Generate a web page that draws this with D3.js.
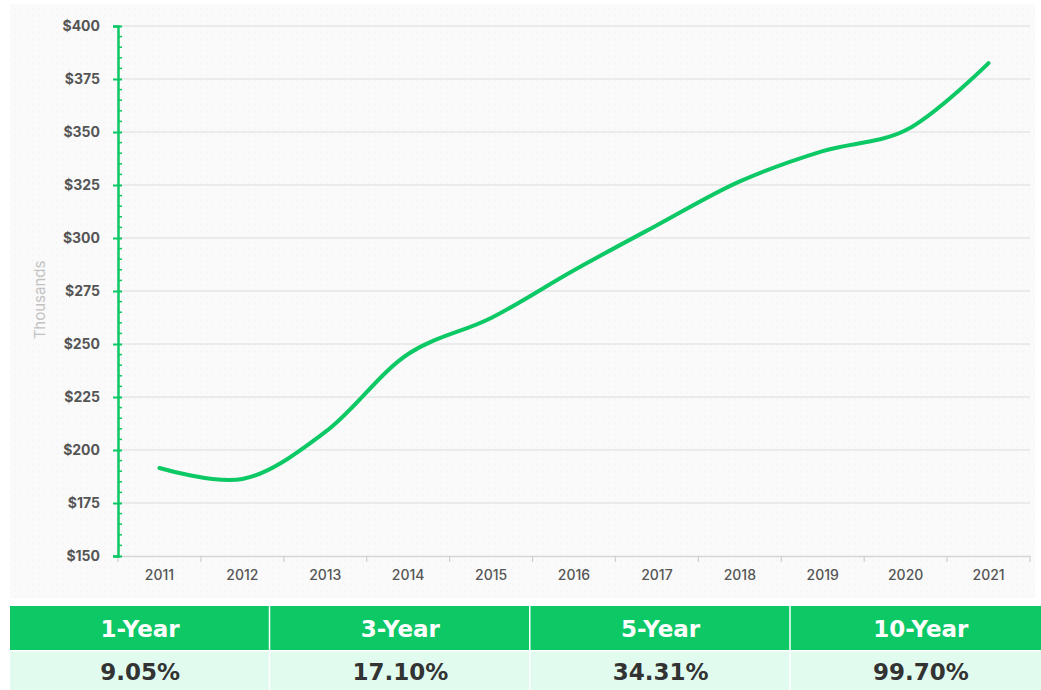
<!DOCTYPE html>
<html>
<head>
<meta charset="utf-8">
<script src="https://cdn.jsdelivr.net/npm/d3@7"></script>
<style>
  body { margin: 0; background: #fff; }
  svg { display: block; }
</style>
</head>
<body>
<svg id="chart"></svg>
<script>
var years = ["2011", "2012", "2013", "2014", "2015", "2016", "2017", "2018", "2019", "2020", "2021"];
var prices = [191.5, 186.3, 208.5, 245.3, 262.3, 284.8, 306, 326.7, 341, 350.8, 382.5];
var yTicks = [150, 175, 200, 225, 250, 275, 300, 325, 350, 375, 400];
var periods = ["1-Year", "3-Year", "5-Year", "10-Year"];
var growth = ["9.05%", "17.10%", "34.31%", "99.70%"];

var width = 1041, height = 690;
var green = "#0cc865";
var labelFont = "Inter, Roboto, sans-serif";
var tableFont = "'DejaVu Sans', sans-serif";

var svg = d3.select("#chart").attr("width", width).attr("height", height);

// panel background with a faint dot texture
var defs = svg.append("defs");
var pat = defs.append("pattern")
  .attr("id", "dots").attr("width", 6).attr("height", 6)
  .attr("patternUnits", "userSpaceOnUse");
pat.append("rect").attr("width", 6).attr("height", 6).attr("fill", "#fafafa");
pat.append("circle").attr("cx", 3).attr("cy", 3).attr("r", 0.6).attr("fill", "#ececec");

svg.append("rect").attr("x", 10).attr("y", 4).attr("width", 1025).attr("height", 594)
  .attr("fill", "url(#dots)");

var x = d3.scaleBand().domain(years).range([118, 1030]);
var y = d3.scaleLinear().domain([150, 400]).range([556, 26]);

// grid
svg.append("g").selectAll("line").data(yTicks.slice(1)).enter().append("line")
  .attr("x1", 118).attr("x2", 1030)
  .attr("y1", function (d) { return y(d); })
  .attr("y2", function (d) { return y(d); })
  .attr("stroke", "#dcdcdc").attr("stroke-width", 1.2);

// x axis
var xAxis = svg.append("g").attr("transform", "translate(0,556)")
  .call(d3.axisBottom(x).tickSize(0).tickPadding(14));
xAxis.select(".domain").attr("stroke", "#d6d6d6").attr("stroke-width", 1.5);
xAxis.selectAll("text").attr("font-family", labelFont)
  .attr("font-size", 14).attr("font-weight", 500).attr("fill", "#555");
svg.append("g").selectAll("line").data(years.concat(["end"])).enter().append("line")
  .attr("x1", function (d, i) { return 118 + i * x.step(); })
  .attr("x2", function (d, i) { return 118 + i * x.step(); })
  .attr("y1", 556).attr("y2", 562)
  .attr("stroke", "#cfcfcf").attr("stroke-width", 1.2);

// y axis
var yAxis = svg.append("g").attr("transform", "translate(118,0)")
  .call(d3.axisLeft(y).tickValues(yTicks).tickSize(5).tickPadding(13)
    .tickFormat(function (d) { return "$" + d; }));
yAxis.select(".domain").attr("stroke", green).attr("stroke-width", 2.5);
yAxis.selectAll(".tick line").attr("stroke", green).attr("stroke-width", 2)
  .attr("x1", 4);
yAxis.selectAll("text").attr("font-family", labelFont)
  .attr("font-size", 14).attr("font-weight", 700).attr("fill", "#555");

var minor = d3.range(150, 400, 5).filter(function (d) { return d % 25 !== 0; });
svg.append("g").selectAll("line").data(minor).enter().append("line")
  .attr("x1", 118).attr("x2", 122)
  .attr("y1", function (d) { return y(d); })
  .attr("y2", function (d) { return y(d); })
  .attr("stroke", green).attr("stroke-width", 1.5);

svg.append("text")
  .attr("transform", "translate(45,300) rotate(-90)")
  .attr("text-anchor", "middle")
  .attr("font-family", labelFont).attr("font-size", 15)
  .attr("fill", "#c2c2c2").text("Thousands");

// line
var line = d3.line()
  .x(function (d, i) { return x(years[i]) + x.bandwidth() / 2; })
  .y(function (d) { return y(d); })
  .curve(d3.curveCatmullRom.alpha(0.5));

svg.append("path").datum(prices)
  .attr("d", line)
  .attr("fill", "none").attr("stroke", green)
  .attr("stroke-width", 4).attr("stroke-linecap", "round");

// summary table
var tx = d3.scaleBand().domain(periods).range([10, 1051]);
var table = svg.append("g");
table.selectAll("rect.head").data(periods).enter().append("rect")
  .attr("x", function (d) { return tx(d); }).attr("y", 606)
  .attr("width", tx.bandwidth() - 1.5).attr("height", 44)
  .attr("fill", green);
table.selectAll("rect.val").data(periods).enter().append("rect")
  .attr("x", function (d) { return tx(d); }).attr("y", 651.5)
  .attr("width", tx.bandwidth() - 1.5).attr("height", 40)
  .attr("fill", "#e1fcef");
table.selectAll("text.head").data(periods).enter().append("text")
  .attr("x", function (d) { return tx(d) + tx.bandwidth() / 2; })
  .attr("y", 629).attr("dy", "0.36em").attr("text-anchor", "middle")
  .attr("font-family", tableFont).attr("font-size", 23)
  .attr("font-weight", 700).attr("fill", "#fff")
  .text(function (d) { return d; });
table.selectAll("text.val").data(growth).enter().append("text")
  .attr("x", function (d, i) { return tx(periods[i]) + tx.bandwidth() / 2; })
  .attr("y", 672).attr("dy", "0.36em").attr("text-anchor", "middle")
  .attr("font-family", tableFont).attr("font-size", 23)
  .attr("font-weight", 700).attr("fill", "#333")
  .text(function (d) { return d; });
</script>
</body>
</html>
